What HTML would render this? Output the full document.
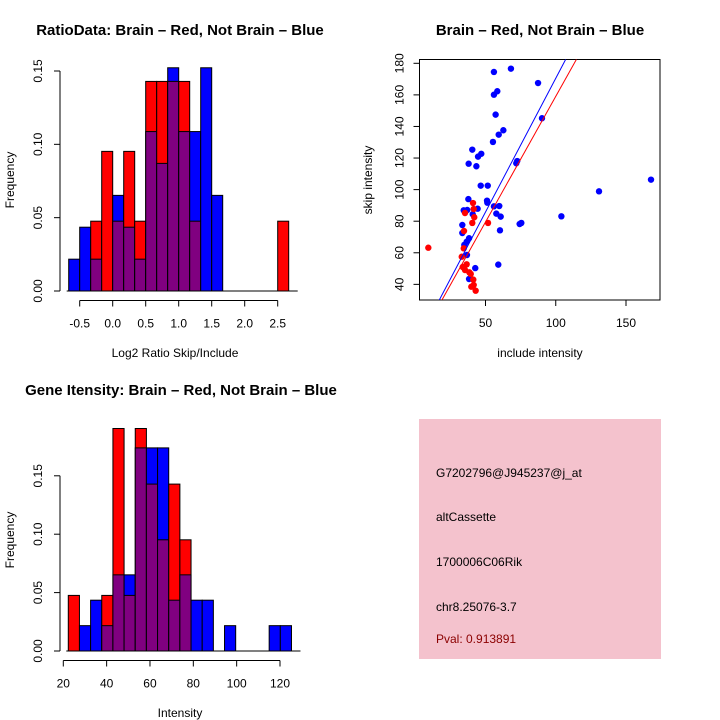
<!DOCTYPE html>
<html><head><meta charset="utf-8"><style>
html,body{margin:0;padding:0;background:#fff;}
svg{display:block;font-family:"Liberation Sans",sans-serif;}
</style></head><body>
<svg id="s" width="720" height="720" viewBox="0 0 720 720">
<rect x="0" y="0" width="720" height="720" fill="#fff"/>
<text x="180" y="35" font-size="15" font-weight="bold" text-anchor="middle">RatioData: Brain – Red, Not Brain – Blue</text>
<text x="175" y="357" font-size="12" text-anchor="middle">Log2 Ratio Skip/Include</text>
<text transform="translate(14,180) rotate(-90)" font-size="12" text-anchor="middle">Frequency</text>
<text x="540" y="35" font-size="15" font-weight="bold" text-anchor="middle">Brain – Red, Not Brain – Blue</text>
<text x="540" y="357" font-size="12" text-anchor="middle">include intensity</text>
<text transform="translate(372,180) rotate(-90)" font-size="12" text-anchor="middle">skip intensity</text>
<text x="181" y="395" font-size="15" font-weight="bold" text-anchor="middle">Gene Itensity: Brain – Red, Not Brain – Blue</text>
<text x="180" y="717" font-size="12" text-anchor="middle">Intensity</text>
<text transform="translate(14,540) rotate(-90)" font-size="12" text-anchor="middle">Frequency</text>
<g>
<rect x="419" y="419" width="242" height="240" fill="#f4c2cd"/>
<text x="436" y="477" font-size="12">G7202796@J945237@j_at</text>
<text x="436" y="521" font-size="12">altCassette</text>
<text x="436" y="566" font-size="12">1700006C06Rik</text>
<text x="436" y="611" font-size="12">chr8.25076-3.7</text>
<text x="436" y="643" font-size="12" fill="#8b0000">Pval: 0.913891</text>
</g>
<g id="g1"></g>
<g id="g2"></g>
<g id="g3"></g>
</svg>
<script>
// Ratio histogram data
const ratioStart = -0.6667, ratioWidth = 1/6;
const ratioRed  = [0,0,0.0476,0.0952,0.0476,0.0952,0.0476,0.1429,0.1429,0.1429,0.1429,0.0476,0,0,0,0,0,0,0,0.0476];
const ratioBlue = [0.0217,0.0435,0.0217,0,0.0652,0.0435,0.0217,0.1087,0.0870,0.1522,0.1087,0.1087,0.1522,0.0652,0,0,0,0,0,0];
const ratioXTicks = [-0.5,0,0.5,1,1.5,2,2.5];
const ratioXLabels = ["-0.5","0.0","0.5","1.0","1.5","2.0","2.5"];
const ratioYTicks = [0,0.05,0.10,0.15];
const ratioYLabels = ["0.00","0.05","0.10","0.15"];
// Gene histogram data
const geneStart = 22.3, geneWidth = 5.15;
const geneRed  = [0.0476,0,0,0.0476,0.1905,0.0476,0.1905,0.1429,0.0952,0.1429,0.0952,0,0,0,0,0,0,0,0,0];
const geneBlue = [0,0.0217,0.0435,0.0217,0.0652,0.0652,0.1739,0.1739,0.1739,0.0435,0.0652,0.0435,0.0435,0,0.0217,0,0,0,0.0217,0.0217];
const geneXTicks = [20,40,60,80,100,120];
const geneXLabels = ["20","40","60","80","100","120"];
const geneYTicks = [0,0.05,0.10,0.15];
const geneYLabels = ["0.00","0.05","0.10","0.15"];
// Scatter data
const blueX = [68.1,56,87.4,58.4,56,57.2,90.2,62.7,59.4,55.3,40.6,47,44.7,72.6,71.9,38,43.5,46.6,51.6,51.1,51.3,37.8,44.4,34.5,37,40.9,56,59.8,57.7,60.8,104,130.8,167.8,75.5,74.3,60.3,33.5,33.5,34.9,36.6,38.3,36.8,59.1,42.7,38.3];
const blueY = [176.6,174.5,167.5,162.3,160.1,147.5,145.2,137.6,134.8,130.2,125.3,122.7,120.9,118.1,116.7,116.4,114.8,102.5,102.5,93,91.7,94,87.9,86.9,87.1,84.4,89.4,89.6,84.8,82.9,83.1,98.9,106.3,78.9,78.2,74.2,77.6,72.5,65,67,69.2,58.6,52.5,50.3,43.4];
const redX = [9.3,41.1,41.6,42,40.6,51.8,34.7,35.4,34.5,33.1,36.6,33.8,35.4,38.5,39.5,41.3,39.9,41.6,43];
const redY = [63.2,91.5,87.7,82.5,78.9,78.9,73.8,85.2,62.8,57.5,52.7,51,49.1,47.6,46.6,43,38.5,39.6,36];
const fitSlope = [1.694,1.592];       // blue, red
const fitIntercept = [1.1,-0.15];
const scXTicks = [50,100,150];
const scYTicks = [40,60,80,100,120,140,160,180];

const NS = "http://www.w3.org/2000/svg";
function mk(parent, tag, attrs){const e=document.createElementNS(NS,tag);for(const k in attrs)e.setAttribute(k,attrs[k]);parent.appendChild(e);return e;}

function hist(g, start, width, red, blue, xs, ys, xTicks, xLabels, yTicks, yLabels, axisY, prefix){
  for(let i=0;i<red.length;i++){
    const x0=xs(start+i*width), x1=xs(start+(i+1)*width);
    const r=red[i], b=blue[i];
    if(r===0&&b===0) continue;
    const hi=Math.max(r,b), lo=Math.min(r,b);
    const top=mk(g,'rect',{x:x0,y:ys(hi),width:x1-x0,height:ys(0)-ys(hi),fill:(r>=b?'#ff0000':'#0000ff'),stroke:'#000','stroke-width':1});
    
    
    if(lo>0){
      const p=mk(g,'rect',{x:x0,y:ys(lo),width:x1-x0,height:ys(0)-ys(lo),fill:'#800080',stroke:'#000','stroke-width':1});
      
      
    }
  }
  const base=mk(g,'line',{x1:xs(start)-2,x2:xs(start+red.length*width)+9,y1:ys(0),y2:ys(0),stroke:'#000'});
  
  
  const xa=mk(g,'line',{x1:xs(xTicks[0]),x2:xs(xTicks[xTicks.length-1]),y1:axisY,y2:axisY,stroke:'#000'});
  
  
  xTicks.forEach((t,i)=>{
    mk(g,'line',{x1:xs(t),x2:xs(t),y1:axisY,y2:axisY+6,stroke:'#000'});
    const tx=mk(g,'text',{x:xs(t),y:axisY+27,'font-size':12,'text-anchor':'middle'});
    tx.textContent=xLabels[i];
    
    
  });
  const ya=mk(g,'line',{x1:60,x2:60,y1:ys(yTicks[0]),y2:ys(yTicks[yTicks.length-1]),stroke:'#000'});
  
  
  yTicks.forEach((t,i)=>{
    mk(g,'line',{x1:54,x2:60,y1:ys(t),y2:ys(t),stroke:'#000'});
    const tx=mk(g,'text',{transform:'translate(42,'+ys(t)+') rotate(-90)','font-size':12,'text-anchor':'middle'});
    tx.textContent=yLabels[i];
    
    
  });
}

const g1=document.getElementById('g1');
hist(g1, ratioStart, ratioWidth, ratioRed, ratioBlue, v=>112.7+66*v, v=>291-1466.7*v, ratioXTicks, ratioXLabels, ratioYTicks, ratioYLabels, 300.5, 'ratio');
const g3=document.getElementById('g3');
hist(g3, geneStart, geneWidth, geneRed, geneBlue, v=>63.3+2.167*(v-20), v=>651-1168*v, geneXTicks, geneXLabels, geneYTicks, geneYLabels, 660.5, 'gene');

// scatter
const g2=document.getElementById('g2');
const sx=v=>485.5+1.405*(v-50), sy=v=>63.3+(180-v)*1.579;
const L=419.5,R=660,T=59.5,B=300;
const defs=mk(g2,'defs',{});
const cp=mk(defs,'clipPath',{id:'clip'});
mk(cp,'rect',{x:L,y:T,width:R-L,height:B-T});
const box=mk(g2,'rect',{x:L,y:T,width:R-L,height:B-T,fill:'none',stroke:'#000'});


const pts=mk(g2,'g',{'clip-path':'url(#clip)'});
function dots(xa,ya,col,name){
  xa.forEach((x,i)=>{
    const c=mk(pts,'circle',{cx:sx(x),cy:sy(ya[i]),r:3.2,fill:col});
    
    
  });
}
dots(blueX,blueY,'#0000ff','blue-point');
dots(redX,redY,'#ff0000','red-point');
['#0000ff','#ff0000'].forEach((col,i)=>{
  const x0=0,x1=200;
  const ln=mk(pts,'line',{x1:sx(x0),y1:sy(fitIntercept[i]+fitSlope[i]*x0),x2:sx(x1),y2:sy(fitIntercept[i]+fitSlope[i]*x1),stroke:col,'stroke-width':1});
  
  
});
scXTicks.forEach(t=>{
  mk(g2,'line',{x1:sx(t),x2:sx(t),y1:B,y2:B+6,stroke:'#000'});
  const tx=mk(g2,'text',{x:sx(t),y:B+27,'font-size':12,'text-anchor':'middle'});
  tx.textContent=String(t);
  
  
});
scYTicks.forEach(t=>{
  mk(g2,'line',{x1:L-6,x2:L,y1:sy(t),y2:sy(t),stroke:'#000'});
  const tx=mk(g2,'text',{transform:'translate('+(L-16)+','+sy(t)+') rotate(-90)','font-size':12,'text-anchor':'middle'});
  tx.textContent=String(t);
  
  
});
</script>
</body></html>
